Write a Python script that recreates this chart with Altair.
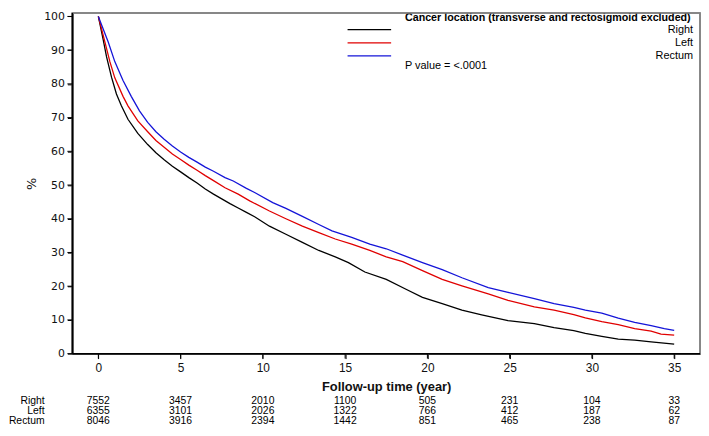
import altair as alt
import pandas as pd

groups = ["Right", "Left", "Rectum"]
colors = ["#000000", "#e00000", "#1414d8"]

right_t = [0, 0.3, 0.5, 0.8, 1.1, 1.4, 1.8, 2.4, 3.0, 3.5, 4.0, 4.5, 5.0, 5.5, 6.0, 6.5, 7.0, 7.5, 8.0, 8.5, 9.0, 9.5,
           10.4, 11.4, 12.4, 13.4, 14.4, 15.2, 16.2, 17.5, 18.7, 19.7, 20.9, 22.1, 23.3, 24.9, 26.5, 27.7, 28.9,
           29.6, 30.6, 31.6, 32.6, 33.6, 35.0]
right_v = [100, 93.0, 88.0, 82.0, 77.0, 73.5, 69.5, 65.3, 62.0, 59.6, 57.5, 55.6, 53.9, 52.2, 50.6, 48.8, 47.3, 45.9,
           44.5, 43.2, 41.9, 40.6, 37.8, 35.4, 33.0, 30.6, 28.7, 27.0, 24.2, 22.0, 19.1, 16.7, 14.8, 12.9, 11.5, 9.8,
           8.9, 7.7, 6.8, 6.0, 5.1, 4.3, 4.0, 3.5, 2.8]

left_t = [0, 0.4, 0.7, 1.0, 1.5, 1.8, 2.4, 3.0, 3.5, 4.0, 4.5, 5.0, 5.5, 6.0, 6.5, 7.0, 7.7, 8.5, 9.2, 10.4, 11.4,
          12.4, 13.4, 14.4, 15.4, 16.5, 17.5, 18.5, 19.7, 20.9, 22.1, 23.7, 24.9, 26.5, 27.7, 28.9, 29.6, 30.6,
          31.6, 32.6, 33.6, 34.2, 35.0]
left_v = [100, 92.4, 86.6, 81.8, 76.3, 73.5, 69.0, 65.8, 63.2, 61.2, 59.2, 57.6, 55.9, 54.4, 52.8, 51.3, 49.2, 47.3,
          45.3, 42.3, 40.0, 37.8, 35.9, 34.0, 32.5, 30.6, 28.7, 27.3, 24.6, 22.0, 20.1, 17.7, 15.8, 13.9, 12.9,
          11.6, 10.6, 9.5, 8.6, 7.4, 6.7, 5.8, 5.5]

rectum_t = [0, 0.6, 1.0, 1.5, 2.0, 2.5, 3.0, 3.5, 4.0, 4.5, 5.0, 5.5, 6.0, 6.5, 7.0, 7.7, 8.2, 9.0, 9.5, 10.6,
            11.4, 12.4, 13.4, 14.2, 15.4, 16.5, 17.5, 18.5, 19.7, 20.9, 22.1, 23.7, 24.9, 26.5, 27.7, 28.9, 29.6,
            30.6, 31.6, 32.6, 33.6, 34.4, 35.0]
rectum_v = [100, 92.4, 86.6, 81.0, 76.3, 72.0, 68.6, 65.8, 63.6, 61.6, 59.8, 58.2, 56.8, 55.3, 54.1, 52.2, 51.2,
            49.0, 47.8, 44.8, 43.1, 40.7, 38.3, 36.4, 34.5, 32.5, 31.1, 29.2, 27.0, 24.9, 22.5, 19.6, 18.2, 16.3,
            14.8, 13.7, 12.9, 12.0, 10.5, 9.3, 8.3, 7.4, 6.9]

risk_times = [0, 5, 10, 15, 20, 25, 30, 35]
risk_right = [7552, 3457, 2010, 1100, 505, 231, 104, 33]
risk_left = [6355, 3101, 2026, 1322, 766, 412, 187, 62]
risk_rectum = [8046, 3916, 2394, 1442, 851, 465, 238, 87]

y_ticks = [0, 10, 20, 30, 40, 50, 60, 70, 80, 90, 100]
x_title = "Follow-up time (year)"
y_title = "%"
legend_title = "Cancer location (transverse and rectosigmoid excluded)"
p_text = "P value = <.0001"

SANS = "DejaVu Sans, Verdana, sans-serif"
ARIAL = "Liberation Sans, Arial, sans-serif"

W, H = 634, 344

rows = []
for g, ts, vs in [("Right", right_t, right_v), ("Left", left_t, left_v), ("Rectum", rectum_t, rectum_v)]:
    for t, v in zip(ts, vs):
        rows.append({"group": g, "t": t, "v": v})
curves = pd.DataFrame(rows)

risk_rows = []
for g, ns in [("Right", risk_right), ("Left", risk_left), ("Rectum", risk_rectum)]:
    for t, n in zip(risk_times, ns):
        risk_rows.append({"group": g, "t": t, "n": n})
risk = pd.DataFrame(risk_rows)

groups_df = pd.DataFrame({"group": groups})
xt_df = pd.DataFrame({"t": risk_times, "k": ["axis"] * len(risk_times)})
yt_df = pd.DataFrame({"v": y_ticks, "k": ["axis"] * len(y_ticks)})
axis_df = pd.DataFrame({"k": ["axis"]})
frame_df = pd.DataFrame({"k": ["frame"]})

color_scale = alt.Scale(domain=groups, range=colors)
stroke_scale = alt.Scale(domain=["axis", "frame"], range=["#000000", "#808080"])
x_scale = alt.Scale(domain=[-1.58, 36.57], nice=False, zero=False)
y_scale = alt.Scale(domain=[0, 101], nice=False, zero=True)

x_axis = alt.Axis(values=risk_times, title=x_title, grid=False, domain=True, ticks=True, domainColor="black",
                  domainWidth=1.5, tickColor="black", tickSize=5, labelFont=ARIAL, labelFontSize=12,
                  labelPadding=4, labelColor="#111111", titleFont=ARIAL, titleFontSize=13,
                  titleFontWeight="bold", titleY=33, titleBaseline="middle", titleColor="#111111")

y_axis = alt.Axis(values=y_ticks, title=y_title, grid=False, domain=True, ticks=True, domainColor="black",
                  domainWidth=1.5, tickColor="black", tickSize=5, labelFont=SANS, labelFontSize=11,
                  labelPadding=3, labelColor="#111111", titleFont=SANS, titleFontSize=13,
                  titleFontWeight="normal", titleColor="#111111",
                  titleX=-41, titleY=H / 2, titleAngle=270, titleBaseline="middle", titleAlign="center")

lines = alt.Chart(curves).mark_line(strokeWidth=1.3).encode(
    x=alt.X("t:Q", scale=x_scale, axis=x_axis),
    y=alt.Y("v:Q", scale=y_scale, axis=y_axis),
    color=alt.Color("group:N", scale=color_scale, legend=None),
    detail="group:N",
)

stroke_enc = alt.Stroke("k:N", scale=stroke_scale, legend=None)

# plot frame (gray box), black left/bottom axis lines and outward ticks
frame = alt.Chart(frame_df).mark_rect(fill="transparent", strokeWidth=1.5).encode(
    x=alt.value(0), x2=alt.value(W), y=alt.value(0), y2=alt.value(H), stroke=stroke_enc)
left_line = alt.Chart(axis_df).mark_rule(strokeWidth=1.5).encode(
    x=alt.value(0), x2=alt.value(0), y=alt.value(0), y2=alt.value(H), stroke=stroke_enc)
bottom_line = alt.Chart(axis_df).mark_rule(strokeWidth=1.5).encode(
    x=alt.value(0), x2=alt.value(W), y=alt.value(H), y2=alt.value(H), stroke=stroke_enc)
x_ticks_m = alt.Chart(xt_df).mark_rule(strokeWidth=1).encode(
    x=alt.X("t:Q", scale=x_scale, axis=x_axis), y=alt.value(H), y2=alt.value(H + 5), stroke=stroke_enc)
y_ticks_m = alt.Chart(yt_df).mark_rule(strokeWidth=1).encode(
    y=alt.Y("v:Q", scale=y_scale, axis=y_axis), x=alt.value(-5), x2=alt.value(0), stroke=stroke_enc)

row_y = {"Right": H + 48, "Left": H + 58, "Rectum": H + 68}
leg_yp = {"Right": 16.7, "Left": 30, "Rectum": 43.3}

layers = [lines]
for g in groups:
    layers.append(
        alt.Chart(risk).transform_filter(alt.datum.group == g).mark_text(
            font=ARIAL, fontSize=10.5, align="center", baseline="middle", color="black").encode(
            x=alt.X("t:Q", scale=x_scale, axis=x_axis),
            y=alt.value(row_y[g]),
            text="n:Q",
        )
    )
    layers.append(
        alt.Chart(groups_df).transform_filter(alt.datum.group == g).mark_text(
            font=ARIAL, fontSize=10.5, align="right", baseline="middle", color="black").encode(
            x=alt.value(-28), y=alt.value(row_y[g]), text="group:N")
    )
    layers.append(
        alt.Chart(groups_df).transform_filter(alt.datum.group == g).mark_rule(strokeWidth=1.3).encode(
            x=alt.value(278), x2=alt.value(322), y=alt.value(leg_yp[g]),
            color=alt.Color("group:N", scale=color_scale, legend=None))
    )
    layers.append(
        alt.Chart(groups_df).transform_filter(alt.datum.group == g).mark_text(
            font=ARIAL, fontSize=11, align="right", baseline="middle", color="black").encode(
            x=alt.value(627), y=alt.value(leg_yp[g]), text="group:N")
    )

layers.append(
    alt.Chart(pd.DataFrame({"s": [legend_title]})).mark_text(
        font=ARIAL, fontSize=10.8, fontWeight="bold", align="left", baseline="middle", color="black").encode(
        x=alt.value(336), y=alt.value(5), text="s:N")
)
layers.append(
    alt.Chart(pd.DataFrame({"s": [p_text]})).mark_text(
        font=ARIAL, fontSize=11, align="left", baseline="middle", color="black").encode(
        x=alt.value(336), y=alt.value(53), text="s:N")
)
layers += [frame, left_line, bottom_line, x_ticks_m, y_ticks_m]

chart = alt.layer(*layers).properties(
    width=W, height=H,
    padding=0,
).configure_view(
    stroke="#808080", strokeWidth=1.5
)

chart.save("out.html", embed_options={"renderer": "svg", "actions": False})
